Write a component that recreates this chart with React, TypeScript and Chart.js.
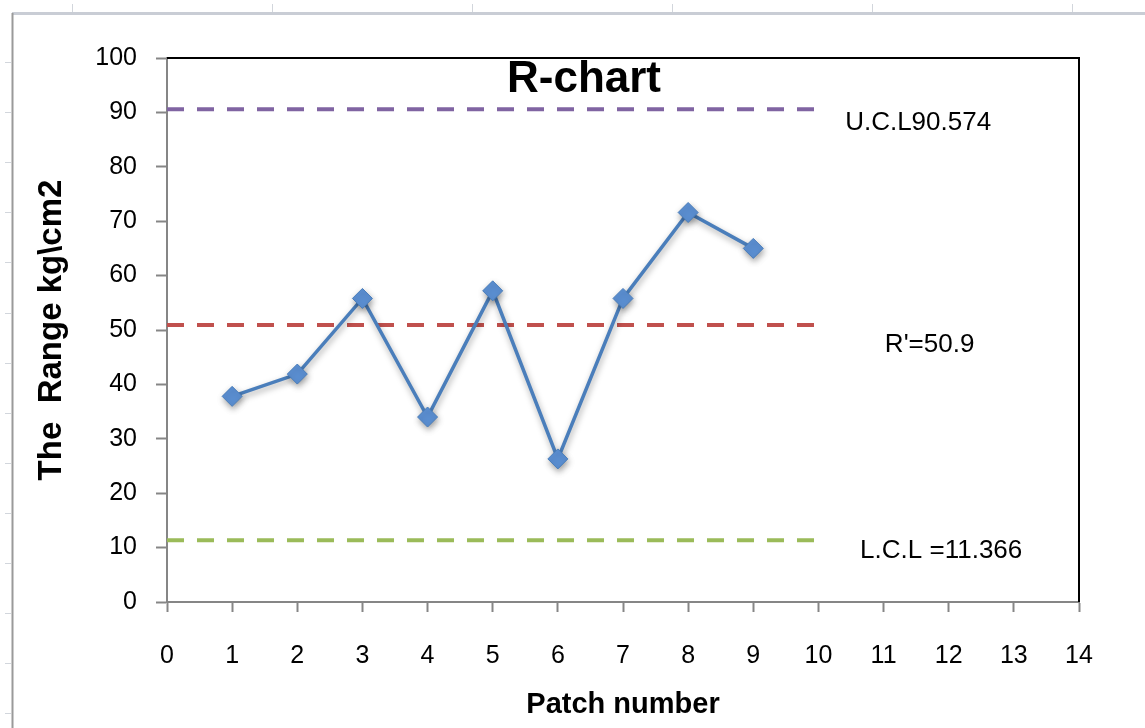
import { useEffect, useRef } from 'react';
import { Chart, registerables } from 'chart.js';

Chart.register(...registerables);

// ---- data ----
const patchNumbers = [1, 2, 3, 4, 5, 6, 7, 8, 9];
const rangeValues = [37.8, 41.9, 55.8, 34.0, 57.2, 26.3, 55.8, 71.6, 65.0];
const controlSpan = [0, 10];
const uclValue = 90.574;
const centerValue = 50.9;
const lclValue = 11.366;
const limitLabels = ['U.C.L90.574', "R'=50.9", 'L.C.L =11.366'];
const xAxisRange = [0, 14];
const yAxisRange = [0, 100];
const titleText = 'R-chart';
const xTitle = 'Patch number';
const yTitle = 'The  Range kg\\cm2';

const FONT = "'Liberation Sans', Arial, sans-serif";

const flatLine = (v: number) => controlSpan.map((x) => ({ x, y: v }));

const decorPlugin = {
  id: 'decor',
  beforeDraw(chart: any) {
    const { ctx, width, height } = chart;
    ctx.save();
    ctx.fillStyle = '#ffffff';
    ctx.fillRect(0, 0, width, height);
    // spreadsheet frame
    ctx.strokeStyle = '#c9cdd5';
    ctx.lineWidth = 3;
    ctx.beginPath();
    ctx.moveTo(12, 13.5);
    ctx.lineTo(width, 13.5);
    ctx.stroke();
    ctx.strokeStyle = '#9a9a9a';
    ctx.lineWidth = 2;
    ctx.beginPath();
    ctx.moveTo(12.5, 13);
    ctx.lineTo(12.5, height);
    ctx.stroke();
    ctx.strokeStyle = '#d2d6dc';
    ctx.lineWidth = 1;
    for (let x = 72; x < width; x += 200) {
      ctx.beginPath();
      ctx.moveTo(x + 0.5, 4);
      ctx.lineTo(x + 0.5, 12);
      ctx.stroke();
    }
    for (let y = 62; y < height; y += 50.1) {
      ctx.beginPath();
      ctx.moveTo(5, Math.round(y) + 0.5);
      ctx.lineTo(11, Math.round(y) + 0.5);
      ctx.stroke();
    }
    ctx.restore();
  },
  beforeDatasetDraw(chart: any, args: any) {
    if (args.index === 3) {
      const ctx = chart.ctx;
      ctx.save();
      ctx.shadowColor = 'rgba(0,0,0,0.35)';
      ctx.shadowBlur = 6;
      ctx.shadowOffsetX = 1;
      ctx.shadowOffsetY = 3;
    }
  },
  afterDatasetDraw(chart: any, args: any) {
    if (args.index === 3) chart.ctx.restore();
  },
  afterDraw(chart: any) {
    const { ctx, chartArea } = chart;
    const xs = chart.scales.x;
    const ys = chart.scales.y;
    ctx.save();
    // plot area top/right border
    ctx.strokeStyle = '#000000';
    ctx.lineWidth = 2;
    ctx.beginPath();
    ctx.moveTo(chartArea.left, chartArea.top);
    ctx.lineTo(chartArea.right, chartArea.top);
    ctx.lineTo(chartArea.right, chartArea.bottom);
    ctx.stroke();
    // title
    ctx.fillStyle = '#000000';
    ctx.font = `bold 44px ${FONT}`;
    ctx.textAlign = 'center';
    ctx.textBaseline = 'alphabetic';
    ctx.fillText(titleText, 584, 92);
    // limit labels
    ctx.font = `26px ${FONT}`;
    ctx.textAlign = 'left';
    const spots = [
      { x: 10.41, v: uclValue, dy: 21 },
      { x: 11.02, v: centerValue, dy: 27 },
      { x: 10.64, v: lclValue, dy: 18 },
    ];
    spots.forEach((s, i) => {
      ctx.fillText(limitLabels[i], xs.getPixelForValue(s.x), ys.getPixelForValue(s.v) + s.dy);
    });
    ctx.restore();
  },
};

export default function App() {
  const ref = useRef<HTMLCanvasElement | null>(null);
  useEffect(() => {
    if (!ref.current) return;
    const dash = [17, 13];
    const chart = new Chart(ref.current, {
      type: 'line',
      data: {
        datasets: [
          {
            label: 'UCL',
            data: flatLine(uclValue),
            borderColor: '#8064A2',
            borderWidth: 4,
            borderDash: dash,
            pointRadius: 0,
            order: 1,
          },
          {
            label: 'Center',
            data: flatLine(centerValue),
            borderColor: '#C0504D',
            borderWidth: 4,
            borderDash: dash,
            pointRadius: 0,
            order: 1,
          },
          {
            label: 'LCL',
            data: flatLine(lclValue),
            borderColor: '#9BBB59',
            borderWidth: 4,
            borderDash: dash,
            pointRadius: 0,
            order: 1,
          },
          {
            label: 'Range',
            data: patchNumbers.map((x, i) => ({ x, y: rangeValues[i] })),
            borderColor: '#4A7EBB',
            borderWidth: 3.5,
            pointStyle: 'rectRot',
            pointRadius: 10,
            pointBackgroundColor: '#5B8FD2',
            pointBorderColor: '#4A7EBB',
            pointBorderWidth: 1,
            order: 0,
          },
        ],
      },
      options: {
        responsive: false,
        animation: false,
        layout: { padding: { left: 0, top: 58, right: 66, bottom: 0 } },
        plugins: {
          legend: { display: false },
          tooltip: { enabled: false },
          title: { display: false },
        },
        scales: {
          x: {
            type: 'linear',
            min: xAxisRange[0],
            max: xAxisRange[1],
            ticks: {
              stepSize: 1,
              color: '#000000',
              font: { family: FONT, size: 25 },
              padding: 29,
            },
            grid: {
              drawOnChartArea: false,
              drawTicks: true,
              tickLength: 10,
              color: '#868686',
              tickWidth: 2,
            },
            border: { color: '#868686', width: 2 },
            title: {
              display: true,
              text: xTitle,
              color: '#000000',
              font: { family: FONT, size: 29, weight: 'bold' },
              padding: { top: 0, bottom: 6 },
            },
            afterFit: (s: any) => {
              s.height = 126;
            },
          },
          y: {
            type: 'linear',
            min: yAxisRange[0],
            max: yAxisRange[1],
            ticks: {
              stepSize: 10,
              color: '#000000',
              font: { family: FONT, size: 25 },
              padding: 19,
            },
            grid: {
              drawOnChartArea: false,
              drawTicks: true,
              tickLength: 11,
              color: '#868686',
              tickWidth: 2,
            },
            border: { color: '#868686', width: 2 },
            title: {
              display: true,
              text: yTitle,
              color: '#000000',
              font: { family: FONT, size: 33, weight: 'bold' },
              padding: { top: 32, bottom: 0 },
            },
            afterFit: (s: any) => {
              s.width = 167;
            },
          },
        },
      },
      plugins: [decorPlugin],
    });
    return () => chart.destroy();
  }, []);
  return (
    <div style={{ position: 'absolute', left: 0, top: 0, width: 1145, height: 728 }}>
      <canvas ref={ref} width={1145} height={728} style={{ display: 'block' }} />
    </div>
  );
}
